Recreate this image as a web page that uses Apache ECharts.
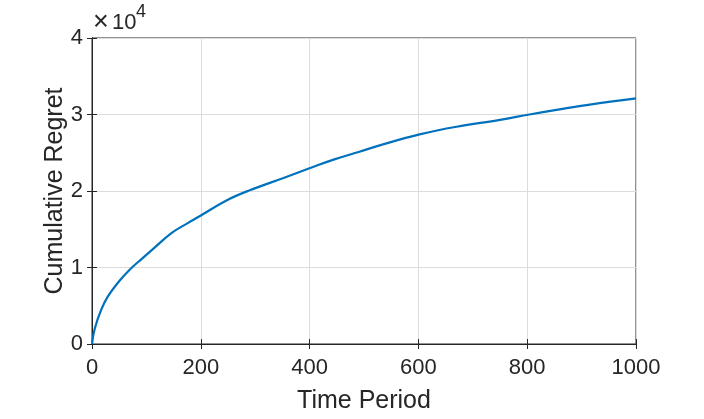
<!DOCTYPE html>
<html>
<head>
<meta charset="utf-8">
<script src="https://cdn.jsdelivr.net/npm/echarts@6/dist/echarts.min.js"></script>
<style>
  html, body { margin: 0; padding: 0; background: #fff; }
  #chart { width: 704px; height: 419px; }
</style>
</head>
<body>
<div id="chart"></div>
<script>
// (time period, cumulative regret)
const periods = [0, 5, 17, 29, 51, 72, 91, 115, 146, 176, 200, 248, 290, 352, 401, 444, 490, 535, 602, 670, 750, 804, 854, 915, 1000]
const regret = [0, 2000, 4500, 6200, 8300, 9900, 11100, 12600, 14500, 15800, 16800, 18800, 20100, 21700, 23000, 24100, 25100, 26100, 27400, 28400, 29300, 30000, 30600, 31300, 32100]
const xTicks = [0, 200, 400, 600, 800, 1000]
const yTicks = [0, 10000, 20000, 30000, 40000]

const font = "'Liberation Sans', Arial, sans-serif"
const axisColor = "#262626"

const chart = echarts.init(document.getElementById("chart"))

const option = {
  animation: false,
  backgroundColor: "#fff",
  grid: {
    left: 92,
    right: 68,
    top: 38,
    bottom: 74,
    show: true,
    borderColor: axisColor,
    borderWidth: 1
  },
  // exponent label  x10^4
  graphic: [
    { type: "text", left: 93, top: 9, style: { text: "×", fontSize: 27, fontFamily: font, fill: axisColor } },
    { type: "text", left: 112, top: 12, style: { text: "10", fontSize: 22, fontFamily: font, fill: axisColor } },
    { type: "text", left: 136, top: 3, style: { text: "4", fontSize: 18, fontFamily: font, fill: axisColor } }
  ],
  xAxis: [
    {
      type: "value",
      min: xTicks[0],
      max: xTicks[xTicks.length - 1],
      interval: 200,
      name: "Time Period",
      nameLocation: "middle",
      nameGap: 45,
      nameTextStyle: { fontSize: 25, fontFamily: font, color: axisColor },
      axisLine: { show: true, onZero: false, lineStyle: { color: axisColor } },
      axisTick: { show: true, inside: true, length: 5, lineStyle: { color: axisColor } },
      axisLabel: { fontSize: 22, fontFamily: font, color: axisColor, margin: 13, formatter: (v) => String(v) },
      splitLine: { show: true, lineStyle: { color: "#dcdcdc" } }
    },
    {
      type: "value",
      position: "top",
      min: xTicks[0],
      max: xTicks[xTicks.length - 1],
      interval: 200,
      axisLine: { show: true, lineStyle: { color: axisColor } },
      axisTick: { show: true, inside: true, length: 5, lineStyle: { color: axisColor } },
      axisLabel: { show: false },
      splitLine: { show: false }
    }
  ],
  yAxis: [
    {
      type: "value",
      min: yTicks[0],
      max: yTicks[yTicks.length - 1],
      interval: 10000,
      name: "Cumulative Regret",
      nameLocation: "middle",
      nameGap: 24,
      nameMoveOverlap: false,
      nameTextStyle: { fontSize: 25, fontFamily: font, color: axisColor },
      axisLine: { show: true, onZero: false, lineStyle: { color: axisColor } },
      axisTick: { show: true, inside: true, length: 5, lineStyle: { color: axisColor } },
      axisLabel: {
        fontSize: 22,
        fontFamily: font,
        color: axisColor,
        margin: 9,
        formatter: (v) => String(v / 10000)
      },
      splitLine: { show: true, lineStyle: { color: "#dcdcdc" } }
    },
    {
      type: "value",
      position: "right",
      min: yTicks[0],
      max: yTicks[yTicks.length - 1],
      interval: 10000,
      axisLine: { show: true, lineStyle: { color: axisColor } },
      axisTick: { show: true, inside: true, length: 5, lineStyle: { color: axisColor } },
      axisLabel: { show: false },
      splitLine: { show: false }
    }
  ],
  series: [
    {
      type: "line",
      data: periods.map((t, i) => [t, regret[i]]),
      showSymbol: false,
      smooth: 0.4,
      lineStyle: { color: "#0072BD", width: 2.2 },
      itemStyle: { color: "#0072BD" }
    }
  ]
}

chart.setOption(option)
</script>
</body>
</html>
